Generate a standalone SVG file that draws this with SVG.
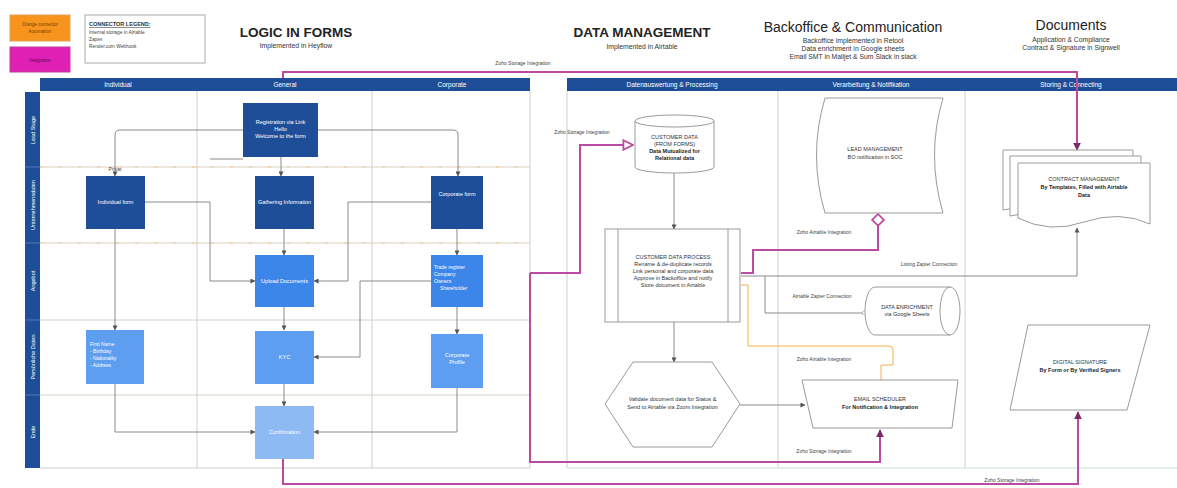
<svg xmlns="http://www.w3.org/2000/svg" width="1177" height="488" viewBox="0 0 1177 488">
<defs>
<style>
text{font-family:"Liberation Sans",Arial,sans-serif}
.hdr{fill:#1f4e99}
.ht{fill:#fff;font-size:6.5px;text-anchor:middle}
.lane{stroke:#cfcfcf;stroke-width:1;fill:none}
.row{stroke:#d9d0c4;stroke-width:1;fill:none}
.rowo{stroke:#f6c88a;stroke-width:1;fill:none;stroke-dasharray:3 16}
.b1{fill:#1f4e99}
.b2{fill:#3b86e8}
.b3{fill:#5d9ef0}
.b4{fill:#8ebaf3}
.bt{fill:#fff;font-size:5.5px;text-anchor:middle}
.btl{fill:#fff;font-size:5px}
.c{stroke:#8a8a8a;stroke-width:1;fill:none}
.m{stroke:#bb4aa2;stroke-width:2;fill:none}
.o{stroke:#f2b04a;stroke-width:1;fill:none}
.sh{fill:#fff;stroke:#9a9a9a;stroke-width:1}
.st{fill:#333;font-size:5.5px;text-anchor:middle}
.sb{fill:#222;font-size:5.5px;text-anchor:middle;font-weight:bold}
.lbl{fill:#444;font-size:5px;text-anchor:middle}
.tt{fill:#222;font-size:13.5px;text-anchor:middle;font-weight:bold}
.ts{fill:#333;font-size:6.8px;text-anchor:middle}
.rl{fill:#fff;font-size:5.5px;text-anchor:middle}
</style>
<marker id="ag" viewBox="0 0 6 6" refX="5.5" refY="3" markerWidth="5" markerHeight="5" orient="auto"><path d="M0,0 L6,3 L0,6 Z" fill="#555"/></marker>
<marker id="am" viewBox="0 0 6 6" refX="5.5" refY="3" markerWidth="4" markerHeight="4" orient="auto"><path d="M0,0 L6,3 L0,6 Z" fill="#7a2a6a"/></marker>
<marker id="ah" viewBox="0 0 10 10" refX="9" refY="5" markerWidth="6" markerHeight="6" orient="auto"><path d="M1,1 L9,5 L1,9 Z" fill="#fff" stroke="#bb4aa2" stroke-width="1.5"/></marker>
<marker id="ad" viewBox="0 0 12 12" refX="11" refY="6" markerWidth="7" markerHeight="7" orient="auto"><path d="M1,6 L6,1 L11,6 L6,11 Z" fill="#fff" stroke="#bb4aa2" stroke-width="1.5"/></marker>
<marker id="ac" viewBox="0 0 8 8" refX="7" refY="4" markerWidth="5" markerHeight="5" orient="auto"><circle cx="4" cy="4" r="3" fill="#fff" stroke="#999" stroke-width="1"/></marker>
</defs>
<rect width="1177" height="488" fill="#fff"/>

<!-- Legend -->
<g id="legend">
<rect x="10" y="15" width="60" height="26" fill="#f7941d" stroke="#e0a050"/>
<text x="40" y="26" font-size="4.5" fill="#7a3d00" text-anchor="middle">Orange connector</text>
<text x="40" y="33" font-size="4.5" fill="#7a3d00" text-anchor="middle">Automation</text>
<rect x="10" y="47" width="60" height="25" fill="#e01fb4" stroke="#c0409e"/>
<text x="40" y="62" font-size="4.5" fill="#5a0a4a" text-anchor="middle">Integration</text>
<rect x="85" y="15" width="120" height="48" fill="#fff" stroke="#aaa"/>
<text x="89" y="26" font-size="5.5" font-weight="bold" fill="#333" text-decoration="underline">CONNECTOR LEGEND:</text>
<text x="89" y="34" font-size="4.8" fill="#444">Internal storage in Airtable</text>
<text x="89" y="41" font-size="4.8" fill="#444">Zapier</text>
<text x="89" y="48" font-size="4.8" fill="#444">Render.com Webhook</text>
</g>

<!-- Titles -->
<g id="titles">
<text class="tt" x="296" y="37">LOGIC IN FORMS</text>
<text class="ts" x="296" y="48">Implemented in Heyflow</text>
<text class="tt" x="642" y="37">DATA MANAGEMENT</text>
<text class="ts" x="642" y="49">Implemented in Airtable</text>
<text class="tt" x="853" y="32" style="font-weight:normal;font-size:14px">Backoffice &amp; Communication</text>
<text class="ts" x="853" y="43">Backoffice implemented in Retool</text>
<text class="ts" x="853" y="51">Data enrichment in Google sheets</text>
<text class="ts" x="853" y="59">Email SMT in Mailjet &amp; Sum Slack in slack</text>
<text class="tt" x="1071" y="30" style="font-weight:normal;font-size:14px">Documents</text>
<text class="ts" x="1071" y="42">Application &amp; Compliance</text>
<text class="ts" x="1071" y="50">Contract &amp; Signature in Signwell</text>
</g>

<!-- Pools / lanes -->
<g id="pools">
<rect class="hdr" x="40" y="78" width="490" height="13"/>
<rect class="hdr" x="567" y="78" width="610" height="13"/>
<text class="ht" x="118" y="87">Individual</text>
<text class="ht" x="285" y="87">General</text>
<text class="ht" x="452" y="87">Corporate</text>
<text class="ht" x="672" y="87">Datenauswertung &amp; Processing</text>
<text class="ht" x="871" y="87">Verarbeitung &amp; Notifikation</text>
<text class="ht" x="1071" y="87">Storing &amp; Connecting</text>
<line class="lane" x1="197" y1="91" x2="197" y2="468"/>
<line class="lane" x1="372" y1="91" x2="372" y2="468"/>
<line class="lane" x1="530" y1="91" x2="530" y2="468"/>
<line class="lane" x1="40" y1="468" x2="530" y2="468"/>
<line class="lane" x1="567" y1="91" x2="567" y2="468"/>
<line class="lane" x1="778" y1="91" x2="778" y2="468"/>
<line class="lane" x1="965" y1="91" x2="965" y2="468"/>
<line x1="567" y1="468" x2="1177" y2="468" stroke="#d8eee0" stroke-width="1.5"/>
<line class="row" x1="40" y1="167" x2="530" y2="167"/>
<line class="row" x1="40" y1="243" x2="530" y2="243"/>
<line class="row" x1="40" y1="320" x2="530" y2="320"/>
<line class="row" x1="40" y1="395" x2="530" y2="395"/>
<line class="rowo" x1="40" y1="167" x2="530" y2="167"/>
<line class="rowo" x1="40" y1="243" x2="530" y2="243"/>
<rect class="hdr" x="25" y="92" width="15" height="376"/>
<g stroke="#5e84c0" stroke-width="0.8">
<line x1="25" y1="167" x2="40" y2="167"/><line x1="25" y1="243" x2="40" y2="243"/>
<line x1="25" y1="320" x2="40" y2="320"/><line x1="25" y1="395" x2="40" y2="395"/>
</g>
<text class="rl" transform="translate(34.5,130) rotate(-90)">Lead Stage</text>
<text class="rl" transform="translate(34.5,205) rotate(-90)">Unternehmensdaten</text>
<text class="rl" transform="translate(34.5,281) rotate(-90)">Angebot</text>
<text class="rl" transform="translate(34.5,357) rotate(-90)">Persönliche Daten</text>
<text class="rl" transform="translate(34.5,432) rotate(-90)">Ende</text>
</g>

<!-- Connectors -->
<g id="connectors">
<path class="c" d="M243,130 H120 Q115,130 115,135 V176" marker-end="url(#ag)"/>
<text class="lbl" x="115" y="171">Privat</text>
<path class="c" d="M318,130 H453 Q458,130 458,135 V176" marker-end="url(#ag)"/>
<path class="c" d="M281,157 V176" marker-end="url(#ag)"/>
<path class="c" d="M284,229 V255" marker-end="url(#ag)"/>
<path class="c" d="M145,202 H210 V281 H255" marker-end="url(#ag)"/>
<path class="c" d="M210,159 H243"/>
<path class="c" d="M431,202 H348 V281 H314" marker-end="url(#ag)"/>
<path class="c" d="M431,281 H360 V357 H314" marker-end="url(#ag)"/>
<path class="c" d="M115,229 V330" marker-end="url(#ag)"/>
<path class="c" d="M115,384 V432 H255" marker-end="url(#ag)"/>
<path class="c" d="M284,307 V330" marker-end="url(#ag)"/>
<path class="c" d="M284,384 V406" marker-end="url(#ag)"/>
<path class="c" d="M457,229 V255" marker-end="url(#ag)"/>
<path class="c" d="M457,307 V334" marker-end="url(#ag)"/>
<path class="c" d="M457,388 V432 H314" marker-end="url(#ag)"/>
<path class="c" d="M674,173 V229" marker-end="url(#ag)"/>
<path class="c" d="M674,322 V362" marker-end="url(#ag)"/>
<path class="c" d="M740,405 H805" marker-end="url(#ag)"/>
<path class="c" d="M741,276 H1077 V228" marker-end="url(#ag)"/>
<text class="lbl" x="929" y="266">Listing Zapier Connection</text>
<path class="c" d="M765,276 V313 H866" marker-end="url(#ac)"/>
<text class="lbl" x="822" y="298">Airtable Zapier Connection</text>
<path class="o" d="M741,285 H748 V346 H889 Q893,346 893,350 V365 H881 V380"/>
<text class="lbl" x="824" y="361">Zoho Airtable Integration</text>

<path class="m" d="M283,78 V72 H1077 V150" marker-end="url(#am)"/>
<text class="lbl" x="523" y="65">Zoho Storage Integration</text>
<path class="m" d="M530,273 H580 V145 H633" marker-end="url(#ah)"/>
<text class="lbl" x="582" y="134">Zoho Storage Integration</text>
<path class="m" d="M530,273 V462 H880 V430" marker-end="url(#am)"/>
<text class="lbl" x="824" y="453">Zoho Storage Integration</text>
<path class="m" d="M741,273 H753 V250 H878 V214" marker-end="url(#ad)"/>
<text class="lbl" x="824" y="234">Zoho Airtable Integration</text>
<path class="m" d="M283,459 V484 H1078 V412" marker-end="url(#am)"/>
<text class="lbl" x="1012" y="482">Zoho Storage Integration</text>
</g>

<!-- Left nodes -->
<g id="n-registration"><rect class="b1" x="243" y="103" width="75" height="54"/>
<text class="bt" x="280.5" y="124">Registration via Link</text><text class="bt" x="280.5" y="131">Hello</text><text class="bt" x="280.5" y="138">Welcome to the form</text></g>
<g id="n-individual"><rect class="b1" x="86" y="176" width="59" height="53"/><text class="bt" x="115.5" y="204">Individual form</text></g>
<g id="n-general"><rect class="b1" x="255" y="176" width="59" height="53"/><text class="bt" x="284.5" y="204">Gathering Information</text></g>
<g id="n-corporate"><rect class="b1" x="431" y="176" width="52" height="53"/><text class="bt" x="457" y="196">Corporate form</text></g>
<g id="n-upload"><rect class="b2" x="255" y="255" width="59" height="52"/><text class="bt" x="284.5" y="283">Upload Documents</text></g>
<g id="n-corpdocs"><rect class="b2" x="431" y="255" width="52" height="52"/>
<text class="btl" x="434" y="269">Trade register</text><text class="btl" x="434" y="276">Company</text><text class="btl" x="434" y="283">Owners</text><text class="btl" x="440" y="290">Shareholder</text></g>
<g id="n-personal"><rect class="b3" x="86" y="330" width="58" height="54"/>
<text class="btl" x="90" y="346">First Name</text><text class="btl" x="90" y="353">- Birthday</text><text class="btl" x="90" y="360">- Nationality</text><text class="btl" x="90" y="367">- Address</text></g>
<g id="n-kyc"><rect class="b3" x="255" y="331" width="59" height="53"/><text class="bt" x="284.5" y="359">KYC</text></g>
<g id="n-corpprofile"><rect class="b3" x="431" y="334" width="52" height="54"/><text class="bt" x="457" y="357">Corporate</text><text class="bt" x="457" y="364">Profile</text></g>
<g id="n-confirm"><rect class="b4" x="255" y="406" width="59" height="53"/><text class="bt" x="284.5" y="434">Confirmation</text></g>

<!-- Right nodes -->
<g id="n-database">
<path class="sh" d="M635,121 A39.5,6 0 0 1 714,121 V167 A39.5,6 0 0 1 635,167 Z"/>
<path class="sh" d="M635,121 A39.5,6 0 0 0 714,121" fill="none"/>
<text class="st" x="674.5" y="139">CUSTOMER DATA</text><text class="st" x="674.5" y="146">(FROM FORMS)</text>
<text class="sb" x="674.5" y="153">Data Mutualized for</text><text class="sb" x="674.5" y="160">Relational data</text></g>
<g id="n-process">
<rect class="sh" x="605" y="229" width="135" height="93"/>
<line x1="618" y1="229" x2="618" y2="322" stroke="#9a9a9a"/><line x1="728" y1="229" x2="728" y2="322" stroke="#9a9a9a"/>
<text class="st" x="673" y="259">CUSTOMER DATA PROCESS</text>
<text class="st" x="673" y="266">Rename &amp; de-duplicate records</text>
<text class="st" x="673" y="273">Link personal and corporate data</text>
<text class="st" x="673" y="280">Approve in Backoffice and notify</text>
<text class="st" x="673" y="287">Store document in Airtable</text></g>
<g id="n-validate">
<path class="sh" d="M605,404 L633,362 L712,362 L740,404 L712,447 L633,447 Z"/>
<text class="st" x="672.5" y="401">Validate document data for Status &amp;</text>
<text class="st" x="672.5" y="409">Send to Airtable via Zoom Integration</text></g>
<g id="n-lead">
<path class="sh" d="M825,98 L943,98 Q926,155 943,213 L825,213 Q808,155 825,98 Z"/>
<text class="st" x="875" y="151">LEAD MANAGEMENT</text>
<text class="st" x="875" y="159">BO notification in SOC</text></g>
<g id="n-enrich">
<path class="sh" d="M875,287 L950,287 A10,24 0 0 1 950,335 L875,335 A10,24 0 0 1 875,287 Z"/>
<path d="M950,287 A10,24 0 0 0 950,335" fill="none" stroke="#9a9a9a"/>
<text class="st" x="907" y="309">DATA ENRICHMENT</text>
<text class="st" x="907" y="316">via Google Sheets</text></g>
<g id="n-email">
<path class="sh" d="M802,380 L958,380 L952,428 L813,428 Z"/>
<text class="st" x="880" y="401">EMAIL SCHEDULER</text>
<text class="sb" x="880" y="409">For Notification &amp; Integration</text></g>
<g id="n-contract">
<path class="sh" d="M1003,150 H1133 V205 Q1068,196 1003,210 Z"/>
<path class="sh" d="M1010,156 H1141 V212 Q1075,202 1010,216 Z"/>
<path class="sh" d="M1018,163 H1150 V224 Q1120,210 1084,222 Q1050,234 1018,218 Z"/>
<text class="st" x="1084" y="181">CONTRACT MANAGEMENT</text>
<text class="sb" x="1084" y="189">By Templates, Filled with Airtable</text>
<text class="sb" x="1084" y="197">Data</text></g>
<g id="n-signature">
<path class="sh" d="M1028,325 L1150,325 L1127,410 L1010,410 Z"/>
<text class="st" x="1080" y="364">DIGITAL SIGNATURE</text>
<text class="sb" x="1080" y="372">By Form or By Verified Signers</text></g>
</svg>
